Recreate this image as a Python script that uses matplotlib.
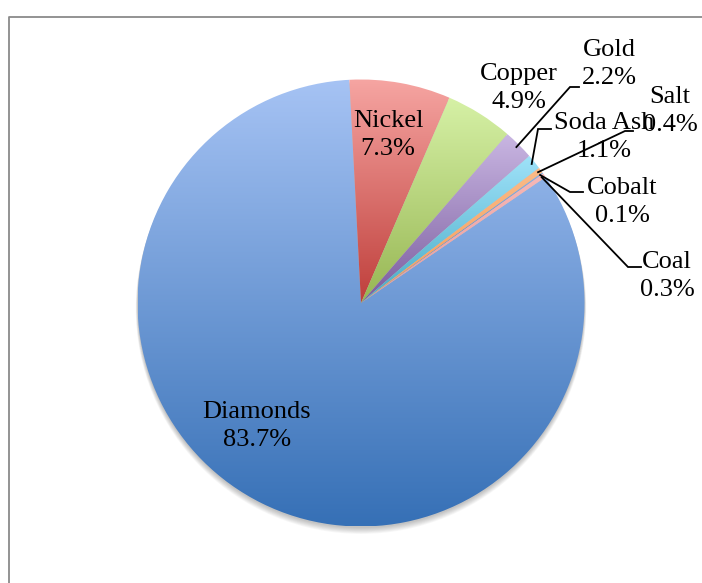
import numpy as np
import matplotlib.pyplot as plt
from matplotlib.colors import LinearSegmentedColormap
from matplotlib.lines import Line2D
from matplotlib.patches import Circle

# data
labels = ['Diamonds', 'Nickel', 'Copper', 'Gold', 'Soda Ash', 'Salt', 'Cobalt', 'Coal']
values = [83.7, 7.3, 4.9, 2.2, 1.1, 0.4, 0.1, 0.3]
# gradient colours per slice (top, bottom)
top_colors = ['#a6c3f4', '#f6a5a2', '#d6f1a6', '#c9b6e2', '#9fe2f9', '#fbbb88', '#8fb0e0', '#f6b8b8']
bottom_colors = ['#3670b6', '#bf3f3b', '#97b653', '#7a5c9e', '#48aac4', '#f59a55', '#3f6fae', '#e99a99']

W, H = 702, 583
CX, CY, R = 361, 303, 223.5


def px(x, y):
    # pixel position in the picture -> data units (pie radius = 1)
    return (x - CX) / R, (CY - y) / R


fig = plt.figure(figsize=(W / 100, H / 100), dpi=100)
ax = fig.add_axes([0, 0, 1, 1])
ax.axis('off')

# soft shadow under the pie (mostly at the bottom)
for k in range(8):
    ax.add_patch(Circle((0, -(1.5 + k * 0.6) / R), 1 + k * 0.25 / R, color='black',
                        alpha=0.03, lw=0, zorder=0))

# start so that Nickel begins just left of 12 o'clock
wedges, _ = ax.pie(values, startangle=34.3, counterclock=False, radius=1,
                   center=(0, 0), wedgeprops=dict(lw=0))

grad = np.linspace(0, 1, 256).reshape(-1, 1)
for w, c1, c2 in zip(wedges, top_colors, bottom_colors):
    w.set_facecolor('none')
    w.set_edgecolor('none')
    (x0, y0), (x1, y1) = w.get_path().get_extents().get_points()
    cmap = LinearSegmentedColormap.from_list('g', [c1, c2])
    im = ax.imshow(grad, extent=[x0, x1, y0, y1], origin='upper', cmap=cmap,
                   aspect='auto', zorder=2, interpolation='bilinear')
    im.set_clip_path(w)

font = dict(family='Liberation Serif', size=19, ha='center', va='center',
            linespacing=1.38, zorder=5)

label_pos = {
    'Diamonds': (257, 426),
    'Nickel': (388, 135),
    'Copper': (519, 88),
    'Gold': (609, 64),
    'Salt': (670, 111),
    'Soda Ash': (604, 137),
    'Cobalt': (622, 202),
    'Coal': (667, 276),
}
# leader lines: (elbow, end) in pixels
leaders = {
    'Gold': ((570, 87), (579, 87)),
    'Soda Ash': ((538, 129), (551, 129)),
    'Salt': ((625, 131), (633, 131)),
    'Cobalt': ((570, 192), (583, 192)),
    'Coal': ((628, 267), (641, 267)),
}

for lab, v, w in zip(labels, values, wedges):
    x, y = px(*label_pos[lab])
    ax.text(x, y, f'{lab}\n{v}%', **font)
    if lab in leaders:
        mid = np.deg2rad((w.theta1 + w.theta2) / 2)
        sx, sy = 0.985 * np.cos(mid), 0.985 * np.sin(mid)
        ex, ey = px(*leaders[lab][0])
        fx, fy = px(*leaders[lab][1])
        ax.plot([sx, ex, fx], [sy, ey, fy], color='black', lw=1.3, zorder=4,
                solid_joinstyle='miter')

ax.set_xlim(-CX / R, (W - CX) / R)
ax.set_ylim((CY - H) / R, CY / R)
ax.set_aspect('auto')

# chart area border (left and top edges visible)
bx, by = 9 / W, 1 - 17 / H
fig.add_artist(Line2D([bx, bx, 1], [0, by, by], transform=fig.transFigure,
                      color='#8a8a8a', lw=1.3))

fig.savefig('out.png', dpi=100)
